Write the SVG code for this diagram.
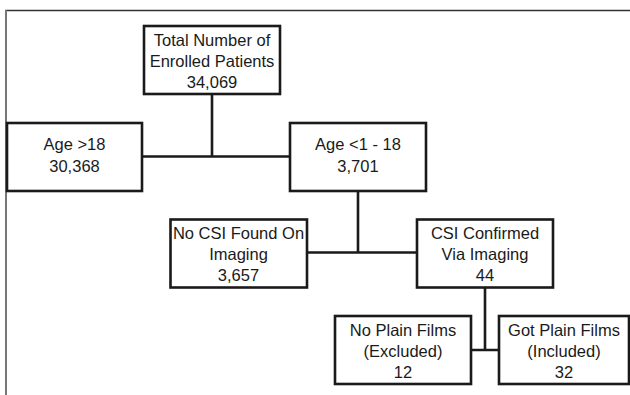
<svg xmlns="http://www.w3.org/2000/svg" width="630" height="395" viewBox="0 0 630 395">
<style>
.box{fill:#fff;stroke:#1a1a1a;stroke-width:2.6}
.c{fill:none;stroke:#1a1a1a;stroke-width:2.6}
text{font-family:"Liberation Sans",Arial,sans-serif;font-size:16.5px;fill:#1a1a1a;text-anchor:middle}
</style>
<rect width="630" height="395" fill="#fff"/>
<g id="frame">
<line x1="5" y1="10.5" x2="630" y2="10.5" stroke="#333" stroke-width="1.5"/>
<line x1="6" y1="10" x2="6" y2="395" stroke="#777" stroke-width="2"/>
</g>
<g id="connectors">
<path class="c" d="M212 94V156.5M142 156.5H290"/>
<path class="c" d="M358 191V252.5M307 252.5H417"/>
<path class="c" d="M485 287.5V350M471 350H499"/>
</g>
<g id="total">
<rect class="box" x="144" y="26" width="136" height="68"/>
<text x="212" y="46">Total Number of</text>
<text x="212" y="67">Enrolled Patients</text>
<text x="212" y="88">34,069</text>
</g>
<g id="age-over-18">
<rect class="box" x="7" y="123" width="135" height="68"/>
<text x="74.5" y="150">Age &gt;18</text>
<text x="74.5" y="172">30,368</text>
</g>
<g id="age-under-18">
<rect class="box" x="290" y="123" width="136" height="68"/>
<text x="358" y="150">Age &lt;1 - 18</text>
<text x="358" y="172">3,701</text>
</g>
<g id="no-csi">
<rect class="box" x="170.5" y="219.5" width="136.5" height="68"/>
<text x="238.5" y="239">No CSI Found On</text>
<text x="238.5" y="260">Imaging</text>
<text x="238.5" y="281">3,657</text>
</g>
<g id="csi-confirmed">
<rect class="box" x="417" y="219.5" width="136" height="68"/>
<text x="485" y="239">CSI Confirmed</text>
<text x="485" y="260">Via Imaging</text>
<text x="485" y="281">44</text>
</g>
<g id="no-plain-films">
<rect class="box" x="335" y="316" width="136" height="68"/>
<text x="403" y="336">No Plain Films</text>
<text x="403" y="357">(Excluded)</text>
<text x="403" y="378">12</text>
</g>
<g id="got-plain-films">
<rect class="box" x="499" y="316" width="130" height="68"/>
<text x="564" y="336">Got Plain Films</text>
<text x="564" y="357">(Included)</text>
<text x="564" y="378">32</text>
</g>
</svg>
